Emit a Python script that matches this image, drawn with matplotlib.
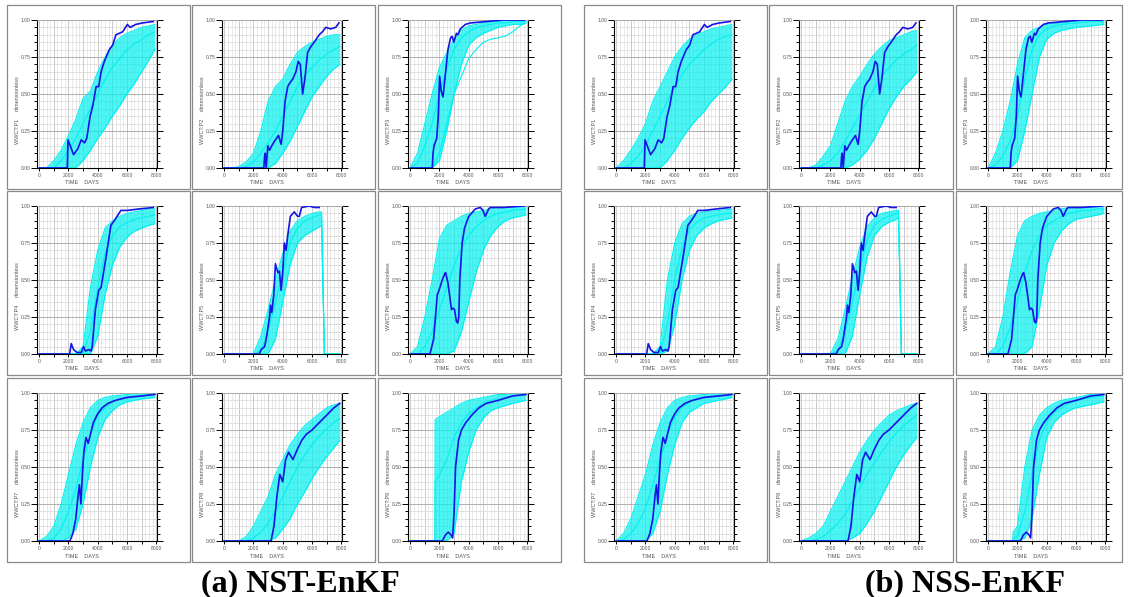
import matplotlib.pyplot as plt
import numpy as np
from matplotlib.patches import Rectangle
from matplotlib.ticker import MultipleLocator, FormatStrFormatter

W, H = 1128, 597

# time axis (days) for the ensemble members
T_ENS = [0, 500, 1000, 1500, 2000, 2500, 3000, 3500, 4000, 4500, 5000, 5500, 6000, 6500, 7000, 7500, 7900]
# P5 is shut in near 6700 days
T_ENS_P5 = [0, 500, 1000, 1500, 2000, 2500, 3000, 3500, 4000, 4500, 5000, 5500, 6000, 6500, 6650, 6850, 7900]
# P9 members restart at 1700 days
T_ENS_P9 = [0, 500, 1000, 1690, 1700, 2000, 2500, 3000, 3500, 4000, 4500, 5000, 5500, 6000, 6500, 7000, 7900]

# observed water cut (truth), same for both filters
OBS_P1_T = [0, 1850, 1920, 1970, 2350, 2640, 2870, 3100, 3250, 3480, 3660, 3890, 4070, 4230, 4450, 4790, 5020, 5240, 5700, 6030, 6210, 6600, 7050, 7800]
OBS_P1 = [0, 0, 0.0, 0.19, 0.09, 0.13, 0.19, 0.17, 0.2, 0.35, 0.42, 0.55, 0.55, 0.65, 0.72, 0.8, 0.83, 0.9, 0.92, 0.97, 0.95, 0.97, 0.98, 0.99]
OBS_P2_T = [0, 2710, 2760, 2800, 2870, 2980, 3100, 3250, 3430, 3710, 3890, 4000, 4160, 4340, 4520, 4680, 4900, 5060, 5200, 5360, 5510, 5700, 5920, 6150, 6490, 6710, 6940, 7280, 7620, 7840]
OBS_P2 = [0, 0, 0.08, 0.1, 0.0, 0.15, 0.12, 0.15, 0.18, 0.22, 0.16, 0.25, 0.45, 0.55, 0.58, 0.6, 0.65, 0.72, 0.7, 0.5, 0.6, 0.78, 0.82, 0.85, 0.9, 0.92, 0.95, 0.94, 0.95, 0.98]
OBS_P3_T = [0, 1510, 1560, 1630, 1810, 1920, 2010, 2120, 2240, 2370, 2580, 2760, 2870, 2980, 3160, 3250, 3430, 3770, 4110, 5240, 6370, 7800]
OBS_P3 = [0, 0, 0.1, 0.15, 0.2, 0.35, 0.62, 0.52, 0.48, 0.6, 0.8, 0.88, 0.89, 0.85, 0.91, 0.9, 0.94, 0.97, 0.98, 0.99, 1.0, 1.0]
OBS_P4_T = [0, 2080, 2190, 2350, 2580, 2870, 3030, 3160, 3390, 3550, 3620, 3840, 4070, 4230, 4560, 4900, 5130, 5580, 6030, 6820, 7800]
OBS_P4 = [0, 0, 0.07, 0.03, 0.01, 0.01, 0.05, 0.02, 0.03, 0.02, 0.05, 0.3, 0.43, 0.45, 0.65, 0.87, 0.9, 0.97, 0.97, 0.98, 0.99]
OBS_P5_T = [0, 2400, 2530, 2760, 2870, 3100, 3160, 3250, 3390, 3500, 3660, 3770, 3890, 4000, 4110, 4230, 4340, 4520, 4790, 5020, 5130, 5290, 5810, 6150, 6490]
OBS_P5 = [0, 0, 0.03, 0.05, 0.1, 0.25, 0.33, 0.28, 0.4, 0.61, 0.55, 0.56, 0.43, 0.55, 0.75, 0.7, 0.8, 0.93, 0.96, 0.93, 0.93, 0.99, 1.0, 0.99, 0.99]
OBS_P6_T = [0, 1350, 1600, 1700, 1850, 1970, 2190, 2350, 2420, 2580, 2690, 2820, 2940, 3030, 3160, 3250, 3320, 3390, 3550, 3710, 4000, 4450, 4790, 4970, 5130, 5360, 5470, 6370, 7800]
OBS_P6 = [0, 0, 0.1, 0.22, 0.4, 0.43, 0.5, 0.54, 0.55, 0.48, 0.4, 0.3, 0.31, 0.3, 0.22, 0.21, 0.25, 0.5, 0.75, 0.85, 0.93, 0.98, 0.99, 0.97, 0.93, 0.98, 0.99, 0.99, 1.0]
OBS_P7_T = [0, 2100, 2300, 2500, 2650, 2750, 2850, 2950, 3050, 3200, 3350, 3500, 3700, 4000, 4300, 4700, 5200, 6000, 7000, 7900]
OBS_P7 = [0, 0, 0.05, 0.15, 0.3, 0.38, 0.25, 0.45, 0.6, 0.7, 0.66, 0.72, 0.8, 0.86, 0.9, 0.93, 0.95, 0.97, 0.98, 0.99]
OBS_P8_T = [0, 3200, 3400, 3600, 3800, 4000, 4200, 4400, 4700, 5000, 5300, 5600, 6000, 6500, 7000, 7500, 7900]
OBS_P8 = [0, 0, 0.1, 0.3, 0.45, 0.4, 0.55, 0.6, 0.55, 0.62, 0.68, 0.72, 0.75, 0.8, 0.85, 0.9, 0.93]
OBS_P9_T = [0, 2200, 2400, 2600, 2800, 2900, 3000, 3100, 3300, 3500, 3800, 4200, 4700, 5200, 6000, 7000, 7900]
OBS_P9 = [0, 0, 0.04, 0.06, 0.04, 0.02, 0.2, 0.5, 0.68, 0.75, 0.8, 0.85, 0.9, 0.93, 0.95, 0.98, 0.99]

# ensemble rows: lower edge, upper edge, then single members
NST_P1 = [[0, 0, 0, 0, 0, 0, 0.05, 0.12, 0.2, 0.27, 0.35, 0.42, 0.5, 0.57, 0.65, 0.73, 0.8],
          [0, 0, 0.05, 0.12, 0.22, 0.33, 0.47, 0.52, 0.65, 0.75, 0.83, 0.88, 0.91, 0.93, 0.95, 0.96, 0.97],
          [0, 0, 0, 0.05, 0.12, 0.2, 0.3, 0.4, 0.5, 0.6, 0.68, 0.74, 0.8, 0.84, 0.87, 0.9, 0.92]]
NST_P2 = [[0, 0, 0, 0, 0, 0, 0, 0.03, 0.1, 0.18, 0.28, 0.38, 0.48, 0.55, 0.62, 0.67, 0.7],
          [0, 0, 0.01, 0.04, 0.1, 0.25, 0.45, 0.55, 0.6, 0.7, 0.78, 0.82, 0.85, 0.87, 0.89, 0.9, 0.9],
          [0, 0, 0, 0.01, 0.04, 0.1, 0.17, 0.25, 0.35, 0.45, 0.55, 0.62, 0.68, 0.73, 0.77, 0.8, 0.82]]
NST_P3 = [[0, 0, 0, 0, 0.05, 0.25, 0.5, 0.7, 0.83, 0.88, 0.91, 0.93, 0.95, 0.96, 0.97, 0.97, 0.98],
          [0, 0.1, 0.3, 0.5, 0.68, 0.78, 0.87, 0.93, 0.96, 0.97, 0.98, 0.985, 0.99, 0.995, 1.0, 1.0, 1.0],
          [0, 0.03, 0.15, 0.3, 0.5, 0.67, 0.8, 0.88, 0.92, 0.95, 0.96, 0.97, 0.98, 0.98, 0.99, 0.99, 0.99],
          [0, 0, 0, 0, 0.1, 0.3, 0.5, 0.62, 0.74, 0.8, 0.85, 0.87, 0.88, 0.89, 0.92, 0.96, 0.98]]
NST_P4 = [[0, 0, 0, 0, 0, 0, 0, 0, 0.12, 0.4, 0.6, 0.72, 0.79, 0.83, 0.85, 0.87, 0.88],
          [0, 0, 0, 0, 0, 0, 0.05, 0.45, 0.7, 0.85, 0.9, 0.93, 0.95, 0.96, 0.97, 0.98, 0.98],
          [0, 0, 0, 0, 0, 0, 0.01, 0.15, 0.45, 0.68, 0.8, 0.86, 0.89, 0.91, 0.92, 0.93, 0.94]]
NST_P5 = [[0, 0, 0, 0, 0, 0, 0, 0.1, 0.35, 0.6, 0.75, 0.8, 0.83, 0.86, 0.87, 0, 0],
          [0, 0, 0, 0, 0, 0.12, 0.3, 0.5, 0.68, 0.83, 0.9, 0.93, 0.95, 0.96, 0.96, 0, 0],
          [0, 0, 0, 0, 0, 0.02, 0.15, 0.35, 0.55, 0.75, 0.85, 0.9, 0.92, 0.94, 0.94, 0, 0]]
NST_P6 = [[0, 0, 0, 0, 0, 0, 0.02, 0.15, 0.35, 0.55, 0.7, 0.8, 0.86, 0.9, 0.92, 0.93, 0.94],
          [0, 0.05, 0.25, 0.5, 0.78, 0.87, 0.9, 0.93, 0.95, 0.96, 0.97, 0.98, 0.99, 0.99, 1.0, 1.0, 1.0],
          [0, 0, 0.05, 0.15, 0.3, 0.45, 0.6, 0.72, 0.8, 0.86, 0.9, 0.93, 0.95, 0.96, 0.97, 0.975, 0.98]]
NST_P7 = [[0, 0, 0, 0, 0.02, 0.08, 0.25, 0.5, 0.7, 0.82, 0.88, 0.92, 0.94, 0.95, 0.96, 0.965, 0.97],
          [0, 0.03, 0.1, 0.25, 0.45, 0.65, 0.8, 0.9, 0.95, 0.97, 0.98, 0.985, 0.99, 0.995, 1.0, 1.0, 1.0],
          [0, 0, 0.02, 0.08, 0.2, 0.35, 0.55, 0.72, 0.85, 0.9, 0.94, 0.96, 0.97, 0.98, 0.98, 0.99, 0.99]]
NST_P8 = [[0, 0, 0, 0, 0, 0, 0, 0.02, 0.08, 0.15, 0.25, 0.33, 0.42, 0.5, 0.57, 0.63, 0.68],
          [0, 0, 0, 0.03, 0.1, 0.2, 0.3, 0.45, 0.55, 0.65, 0.72, 0.78, 0.82, 0.86, 0.9, 0.92, 0.93],
          [0, 0, 0, 0, 0.02, 0.06, 0.12, 0.2, 0.3, 0.4, 0.5, 0.58, 0.65, 0.71, 0.76, 0.8, 0.83]]
NST_P9 = [[0, 0, 0, 0, 0, 0, 0, 0.05, 0.4, 0.6, 0.75, 0.83, 0.88, 0.9, 0.915, 0.93, 0.95],
          [0, 0, 0, 0, 0.82, 0.84, 0.87, 0.9, 0.93, 0.95, 0.96, 0.97, 0.98, 0.99, 0.99, 1.0, 1.0],
          [0, 0, 0, 0, 0.4, 0.45, 0.55, 0.7, 0.8, 0.86, 0.9, 0.93, 0.95, 0.96, 0.97, 0.98, 0.99]]

NSS_P1 = [[0, 0, 0, 0, 0, 0, 0, 0.05, 0.12, 0.2, 0.27, 0.33, 0.38, 0.45, 0.5, 0.55, 0.6],
          [0, 0.05, 0.12, 0.2, 0.3, 0.45, 0.55, 0.65, 0.75, 0.82, 0.87, 0.9, 0.92, 0.94, 0.95, 0.96, 0.97],
          [0, 0, 0.03, 0.08, 0.15, 0.25, 0.35, 0.45, 0.55, 0.63, 0.7, 0.75, 0.8, 0.84, 0.87, 0.89, 0.9]]
NSS_P2 = [[0, 0, 0, 0, 0, 0, 0, 0.02, 0.06, 0.12, 0.2, 0.3, 0.4, 0.48, 0.55, 0.6, 0.65],
          [0, 0, 0.02, 0.08, 0.15, 0.3, 0.45, 0.55, 0.62, 0.7, 0.77, 0.82, 0.86, 0.88, 0.9, 0.92, 0.93],
          [0, 0, 0, 0.02, 0.05, 0.1, 0.18, 0.27, 0.36, 0.45, 0.54, 0.62, 0.68, 0.73, 0.77, 0.8, 0.83]]
NSS_P3 = [[0, 0, 0, 0, 0.05, 0.25, 0.5, 0.75, 0.87, 0.91, 0.93, 0.94, 0.95, 0.955, 0.96, 0.965, 0.97],
          [0, 0.1, 0.25, 0.45, 0.7, 0.88, 0.93, 0.95, 0.97, 0.975, 0.98, 0.985, 0.99, 0.995, 1.0, 1.0, 1.0],
          [0, 0.02, 0.08, 0.18, 0.35, 0.6, 0.8, 0.9, 0.94, 0.96, 0.97, 0.975, 0.98, 0.985, 0.99, 0.99, 0.99]]
NSS_P4 = [[0, 0, 0, 0, 0, 0, 0, 0.02, 0.2, 0.5, 0.7, 0.8, 0.85, 0.88, 0.9, 0.91, 0.92],
          [0, 0, 0, 0, 0, 0, 0.05, 0.5, 0.75, 0.88, 0.93, 0.95, 0.96, 0.965, 0.97, 0.975, 0.98],
          [0, 0, 0, 0, 0, 0, 0.01, 0.2, 0.5, 0.72, 0.84, 0.89, 0.92, 0.93, 0.94, 0.95, 0.95]]
NSS_P5 = [[0, 0, 0, 0, 0, 0, 0, 0.12, 0.4, 0.65, 0.8, 0.86, 0.89, 0.91, 0.92, 0, 0],
          [0, 0, 0, 0, 0, 0.1, 0.3, 0.52, 0.72, 0.86, 0.92, 0.95, 0.96, 0.97, 0.97, 0, 0],
          [0, 0, 0, 0, 0, 0.02, 0.15, 0.35, 0.57, 0.77, 0.87, 0.91, 0.93, 0.95, 0.95, 0, 0]]
NSS_P6 = [[0, 0, 0, 0, 0, 0, 0.05, 0.3, 0.6, 0.75, 0.83, 0.88, 0.91, 0.92, 0.93, 0.94, 0.95],
          [0, 0.05, 0.25, 0.55, 0.8, 0.9, 0.93, 0.95, 0.96, 0.97, 0.98, 0.99, 0.99, 1.0, 1.0, 1.0, 1.0],
          [0, 0, 0.05, 0.18, 0.35, 0.55, 0.7, 0.8, 0.87, 0.9, 0.93, 0.95, 0.96, 0.97, 0.97, 0.98, 0.98]]
NSS_P7 = [[0, 0, 0, 0, 0, 0.05, 0.2, 0.45, 0.65, 0.8, 0.87, 0.9, 0.93, 0.94, 0.95, 0.96, 0.97],
          [0, 0.05, 0.15, 0.3, 0.45, 0.65, 0.8, 0.9, 0.95, 0.97, 0.98, 0.985, 0.99, 0.995, 1.0, 1.0, 1.0],
          [0, 0.01, 0.05, 0.12, 0.22, 0.38, 0.55, 0.72, 0.84, 0.9, 0.94, 0.96, 0.97, 0.98, 0.98, 0.99, 0.99]]
NSS_P8 = [[0, 0, 0, 0, 0, 0, 0, 0.02, 0.05, 0.12, 0.2, 0.3, 0.4, 0.5, 0.58, 0.65, 0.7],
          [0, 0.02, 0.05, 0.1, 0.2, 0.3, 0.4, 0.5, 0.6, 0.68, 0.75, 0.8, 0.85, 0.88, 0.9, 0.92, 0.93],
          [0, 0, 0.01, 0.03, 0.07, 0.12, 0.18, 0.27, 0.36, 0.45, 0.53, 0.6, 0.67, 0.73, 0.78, 0.82, 0.85]]
NSS_P9 = [[0, 0, 0, 0, 0, 0, 0.02, 0.15, 0.45, 0.7, 0.8, 0.85, 0.88, 0.9, 0.91, 0.92, 0.94],
          [0, 0, 0, 0, 0.06, 0.1, 0.5, 0.75, 0.85, 0.9, 0.93, 0.95, 0.96, 0.97, 0.98, 0.99, 1.0],
          [0, 0, 0, 0, 0.02, 0.03, 0.2, 0.45, 0.68, 0.8, 0.87, 0.9, 0.93, 0.95, 0.96, 0.97, 0.98]]

WELLS = ["P1", "P2", "P3", "P4", "P5", "P6", "P7", "P8", "P9"]
OBS = [(OBS_P1_T, OBS_P1), (OBS_P2_T, OBS_P2), (OBS_P3_T, OBS_P3),
       (OBS_P4_T, OBS_P4), (OBS_P5_T, OBS_P5), (OBS_P6_T, OBS_P6),
       (OBS_P7_T, OBS_P7), (OBS_P8_T, OBS_P8), (OBS_P9_T, OBS_P9)]
NST = [NST_P1, NST_P2, NST_P3, NST_P4, NST_P5, NST_P6, NST_P7, NST_P8, NST_P9]
NSS = [NSS_P1, NSS_P2, NSS_P3, NSS_P4, NSS_P5, NSS_P6, NSS_P7, NSS_P8, NSS_P9]
ENS_TIMES = {"P5": T_ENS_P5, "P9": T_ENS_P9}
TITLES = ["(a) NST-EnKF", "(b) NSS-EnKF"]

CYAN = "#00f0f0"
BLUE = "#1414e6"
TXT = "#555555"
FS_TICK = 3.6
FS_LAB = 4.0

# panel frames in pixels
BOX_X = [[7, 192, 378], [584, 769, 956]]
BOX_W = [[183, 183, 183], [183, 184, 166]]
BOX_Y = [5, 191, 378]
BOX_H = 184
TITLE_X = [300, 965]

fig = plt.figure(figsize=(W / 100, H / 100), dpi=100)
fig.patch.set_facecolor("white")


def draw_panel(bx, by, bw, well, obs, ens):
    fig.add_artist(Rectangle((bx / W, 1 - (by + BOX_H) / H), bw / W, BOX_H / H,
                             transform=fig.transFigure, fill=False, ec="#8a8a8a", lw=0.9))
    ax = fig.add_axes([(bx + 30) / W, 1 - (by + 15 + 148) / H, 120 / W, 148 / H])
    t_ens = ENS_TIMES.get(well, T_ENS)

    # fine grid
    for xg in np.arange(0, 8001, 250):
        ax.axvline(xg, color="#e2e2e2", lw=0.5, zorder=0)
    for xg in np.arange(0, 8001, 1000):
        ax.axvline(xg, color="#c4c4c4", lw=0.6, zorder=0)
    for yg in np.arange(0.05, 1.0, 0.05):
        ax.axhline(yg, color="#d6d6d6", lw=0.5, zorder=0)
    for yg in [0.25, 0.5, 0.75, 1.0]:
        ax.axhline(yg, color="#a8a8a8", lw=0.6, zorder=0)

    ax.fill_between(t_ens, ens[0], ens[1], color=CYAN, alpha=0.7, lw=0, zorder=1)
    for row in ens:
        ax.plot(t_ens, row, color=CYAN, lw=0.8, zorder=2)
    ax.plot(obs[0], obs[1], color=BLUE, lw=1.2, zorder=3)

    ax.set_xlim(-150, 8050)
    ax.set_ylim(0, 1)
    ax.xaxis.set_major_locator(MultipleLocator(2000))
    ax.xaxis.set_minor_locator(MultipleLocator(1000))
    ax.yaxis.set_major_locator(MultipleLocator(0.25))
    ax.yaxis.set_minor_locator(MultipleLocator(0.05))
    ax.yaxis.set_major_formatter(FormatStrFormatter("%.2f"))
    ax.tick_params(axis="y", which="both", direction="out", left=True, right=True,
                   labelsize=FS_TICK, labelcolor=TXT, pad=0.5, width=0.7)
    ax.tick_params(axis="y", which="major", length=4.3)
    ax.tick_params(axis="y", which="minor", length=2.2)
    ax.tick_params(axis="x", which="both", direction="out", length=2.5, width=0.7,
                   labelsize=FS_TICK, labelcolor=TXT, pad=1)
    for lab in ax.get_xticklabels() + ax.get_yticklabels():
        lab.set_fontfamily("Liberation Sans")
    ax.spines["top"].set_color("#a8a8a8")
    ax.spines["top"].set_linewidth(0.6)
    for side in ["left", "right", "bottom"]:
        ax.spines[side].set_linewidth(0.8)

    fig.text((bx + 75) / W, 1 - (by + 178) / H, "TIME    DAYS", fontsize=FS_LAB, color=TXT,
             family="Liberation Sans", ha="center", va="center")
    fig.text((bx + 10.5) / W, 1 - (by + 105) / H, "WWCT:" + well + "     dimensionless",
             fontsize=FS_LAB, color=TXT, family="Liberation Sans", rotation=90,
             ha="center", va="center")


for g, ensembles in enumerate([NST, NSS]):
    for i, well in enumerate(WELLS):
        r, c = divmod(i, 3)
        draw_panel(BOX_X[g][c], BOX_Y[r], BOX_W[g][c], well, OBS[i], ensembles[i])
    fig.text(TITLE_X[g] / W, 1 - 591 / H, TITLES[g], fontsize=23, fontweight="bold",
             family="Liberation Serif", ha="center", va="baseline")

fig.savefig("out.png", dpi=100, facecolor="white")
